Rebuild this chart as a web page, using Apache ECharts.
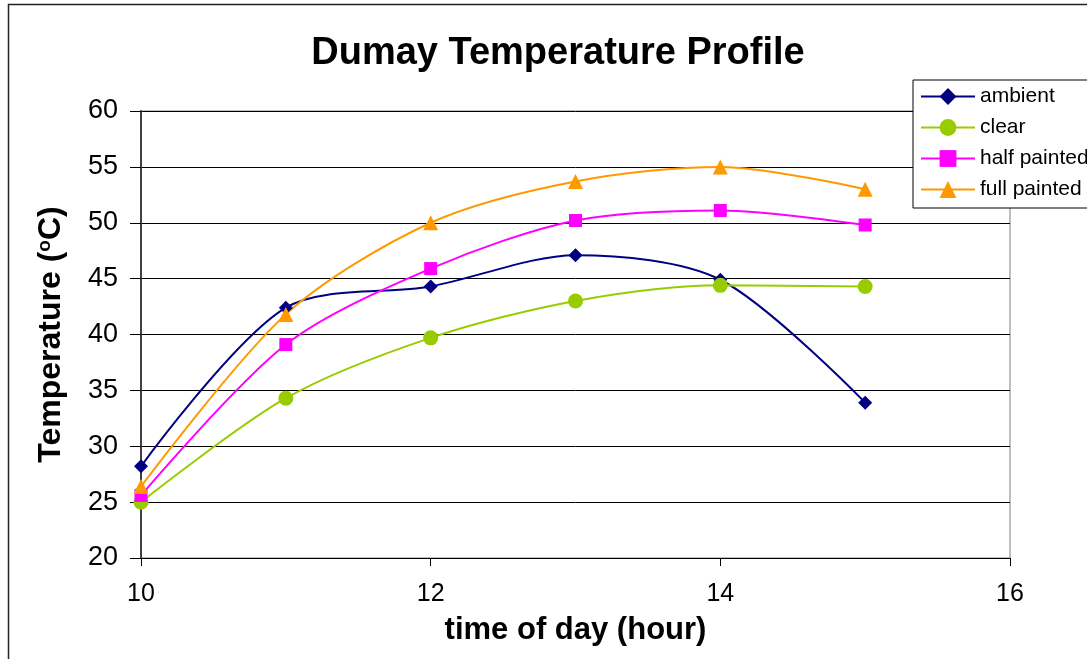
<!DOCTYPE html>
<html>
<head>
<meta charset="utf-8">
<script src="https://cdn.jsdelivr.net/npm/echarts@6/dist/echarts.min.js"></script>
<style>
html,body{margin:0;padding:0;background:#fff;}
#chart{width:1087px;height:659px;}
</style>
</head>
<body>
<div id="chart"></div>
<script>
const hours = [10, 11, 12, 13, 14, 15];
const ambient = [28.2, 42.4, 44.3, 47.1, 44.9, 33.9];
const clear = [25.0, 34.3, 39.7, 43.0, 44.4, 44.3];
const halfPainted = [25.6, 39.1, 45.9, 50.2, 51.1, 49.8];
const fullPainted = [26.4, 41.8, 50.0, 53.7, 55.0, 53.0];
const seriesNames = ['ambient', 'clear', 'half painted', 'full painted'];
const xTicks = [10, 12, 14, 16];
const yTicks = [20, 25, 30, 35, 40, 45, 50, 55, 60];

const FONT = '"Liberation Sans", Arial, Helvetica, sans-serif';
const pairs = arr => hours.map((h, i) => [h, arr[i]]);

const styles = [
  {color: '#000080', symbol: 'diamond', size: 14},
  {color: '#99CC00', symbol: 'circle', size: 15},
  {color: '#FF00FF', symbol: 'rect', size: 13},
  {color: '#FF9900', symbol: 'triangle', size: 15}
];
const datasets = [ambient, clear, halfPainted, fullPainted];

const chart = echarts.init(document.getElementById('chart'), null, {renderer: 'canvas'});
chart.setOption({
  backgroundColor: '#fff',
  animation: false,
  title: {
    text: 'Dumay Temperature Profile',
    left: 553,
    textAlign: 'center',
    top: 30,
    textStyle: {fontFamily: FONT, fontSize: 38, fontWeight: 'bold', color: '#000'}
  },
  graphic: [{
    type: 'rect',
    shape: {x: 8.5, y: 4.5, width: 1200, height: 1000},
    style: {fill: 'none', stroke: '#222', lineWidth: 1.5},
    silent: true, z: 100
  }],
  legend: {
    orient: 'vertical',
    left: 913,
    top: 80,
    padding: [6, 30, 8, 7],
    itemGap: 10,
    itemWidth: 54,
    itemHeight: 21,
    backgroundColor: '#fff',
    borderColor: '#000',
    borderWidth: 1,
    textStyle: {fontFamily: FONT, fontSize: 21, color: '#000'},
    data: seriesNames
  },
  grid: {
    left: 141, right: 77, top: 111, bottom: 101,
    show: true, borderColor: '#808080', borderWidth: 1
  },
  xAxis: {
    type: 'value',
    min: xTicks[0], max: xTicks[xTicks.length - 1], interval: 2,
    name: 'time of day (hour)',
    nameLocation: 'middle',
    nameGap: 57,
    nameTextStyle: {fontFamily: FONT, fontSize: 31, fontWeight: 'bold', color: '#000'},
    axisLine: {show: true, lineStyle: {color: '#000', width: 1}},
    axisTick: {show: true, length: 8, lineStyle: {color: '#000'}},
    axisLabel: {fontFamily: FONT, fontSize: 25, color: '#000', margin: 24},
    splitLine: {show: false}
  },
  yAxis: {
    type: 'value',
    min: yTicks[0], max: yTicks[yTicks.length - 1], interval: 5,
    name: '{n|Temperature (}{s|o}{n|C)}',
    nameLocation: 'middle',
    nameGap: 73,
    nameTextStyle: {
      fontFamily: FONT, fontSize: 32, fontWeight: 'bold', color: '#000',
      rich: {
        n: {fontFamily: FONT, fontSize: 32, fontWeight: 'bold', color: '#000'},
        s: {fontFamily: FONT, fontSize: 19, fontWeight: 'bold', color: '#000', padding: [0, 0, 14, 0]}
      }
    },
    axisLine: {show: true, lineStyle: {color: '#404040', width: 2}},
    axisTick: {show: true, length: 11, lineStyle: {color: '#000'}},
    axisLabel: {fontFamily: FONT, fontSize: 27, color: '#000', margin: 23},
    splitLine: {show: true, lineStyle: {color: '#000', width: 1}}
  },
  series: seriesNames.map((name, i) => ({
    name: name,
    type: 'line',
    data: pairs(datasets[i]),
    smooth: 0.3,
    symbol: styles[i].symbol,
    symbolSize: styles[i].size,
    showSymbol: true,
    lineStyle: {color: styles[i].color, width: 2},
    itemStyle: {color: styles[i].color},
    clip: false
  }))
});
</script>
</body>
</html>
